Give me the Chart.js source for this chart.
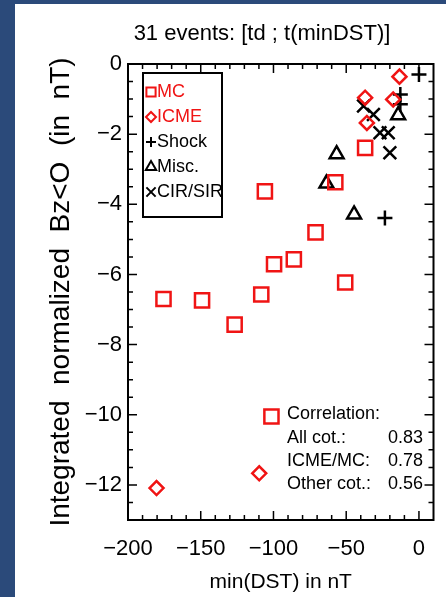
<!DOCTYPE html>
<html>
<head>
<meta charset="utf-8">
<title>31 events</title>
<script src="https://cdn.jsdelivr.net/npm/chart.js@4.4.1/dist/chart.umd.min.js"></script>
<style>
  html, body { margin: 0; padding: 0; background: #2b4a7a; }
  #panel { position: absolute; left: 15px; top: 4px; width: 431px; height: 593px; background: #fff; }
</style>
</head>
<body>
<div id="panel"><canvas id="chart"></canvas></div>
<script>
const FONT = "'Liberation Sans', Arial, sans-serif";
const RED = '#f01414';
const BLACK = '#000';

// axes
const X_RANGE = [-200, 10];
const Y_RANGE = [-13, 0];
const X_TICKS = [-200, -150, -100, -50, 0];
const Y_TICKS = [-12, -10, -8, -6, -4, -2, 0];

// events, [min(DST), integrated normalized Bz<0]
const CATEGORIES = ['MC', 'ICME', 'Shock', 'Misc.', 'CIR/SIR'];
const MC = [
  [-175.6, -6.70], [-149.1, -6.74], [-126.7, -7.43], [-108.4, -6.57],
  [-105.9, -3.63], [-99.6, -5.71], [-86.0, -5.57], [-71.1, -4.80],
  [-50.7, -6.23], [-57.5, -3.37], [-37.0, -2.39], [-101.4, -10.05]
];
const ICME = [
  [-13.4, -0.36], [-37.0, -0.96], [-35.8, -1.68], [-17.7, -1.01],
  [-180.4, -12.09], [-109.8, -11.67]
];
const SHOCK = [[0.0, -0.30], [-12.8, -0.87], [-12.8, -1.15], [-23.4, -4.39]];
const MISC = [[-56.6, -2.57], [-63.6, -3.41], [-44.6, -4.29], [-14.3, -1.46]];
const CIR_SIR = [[-38.1, -1.20], [-31.3, -1.44], [-26.8, -1.96], [-21.1, -1.96], [-20.0, -2.53]];

const CORR_TITLE = 'Correlation:';
const CORR_LABELS = ['All cot.:', 'ICME/MC:', 'Other cot.:'];
const CORR_VALUES = ['0.83', '0.78', '0.56'];

const TITLE = '31 events: [td ; t(minDST)]';

const toXY = arr => arr.map(p => ({ x: p[0], y: p[1] }));
const minus = v => String(v).replace('-', '\u2212');

function series(i, points, style, color, radius, legendRadius) {
  return {
    label: CATEGORIES[i],
    data: toXY(points),
    pointStyle: style,
    pointRadius: radius,
    pointBorderWidth: 2.5,
    pointBorderColor: color,
    pointBackgroundColor: 'rgba(0,0,0,0)',
    borderColor: color,
    legendRadius: legendRadius
  };
}

// frame with inward ticks on all sides, in-plot legend, title and correlation note
const idlFrame = {
  id: 'idlFrame',
  afterDatasetsDraw(chart) {
    const { ctx, chartArea: a, scales: { x, y } } = chart;
    ctx.save();
    ctx.strokeStyle = BLACK;

    ctx.beginPath();
    for (let v = X_RANGE[0] + 10; v < X_RANGE[1]; v += 10) {
      const px = x.getPixelForValue(v);
      const len = X_TICKS.includes(v) ? 9 : 5;
      ctx.moveTo(px, a.bottom); ctx.lineTo(px, a.bottom - len);
      ctx.moveTo(px, a.top); ctx.lineTo(px, a.top + len);
    }
    for (let v = Y_RANGE[0] + 0.5; v < Y_RANGE[1]; v += 0.5) {
      const py = y.getPixelForValue(v);
      const len = Y_TICKS.includes(v) ? 9 : 5;
      ctx.moveTo(a.left, py); ctx.lineTo(a.left + len, py);
      ctx.moveTo(a.right, py); ctx.lineTo(a.right - len, py);
    }
    ctx.lineWidth = 1.5;
    ctx.stroke();

    ctx.lineWidth = 2;
    ctx.strokeRect(a.left, a.top, a.right - a.left, a.bottom - a.top);

    // legend box
    const lx = a.left + 15, ly = a.top + 9;
    ctx.strokeRect(lx, ly, 79, 144);
    ctx.font = '18px ' + FONT;
    ctx.textBaseline = 'middle';
    ctx.textAlign = 'left';
    chart.data.datasets.forEach((ds, i) => {
      const cy = ly + 19 + i * 25;
      ctx.strokeStyle = ds.borderColor;
      ctx.fillStyle = 'rgba(0,0,0,0)';
      ctx.lineWidth = 2;
      Chart.helpers.drawPoint(ctx, { pointStyle: ds.pointStyle, radius: ds.legendRadius, borderWidth: 2, rotation: 0 }, lx + 8, cy);
      ctx.fillStyle = ds.borderColor;
      ctx.fillText(ds.label, lx + 14, cy);
    });

    // correlation note
    ctx.fillStyle = BLACK;
    ctx.fillText(CORR_TITLE, a.left + 159, a.top + 350);
    CORR_LABELS.forEach((t, i) => {
      const cy = a.top + 374 + i * 23;
      ctx.textAlign = 'left';
      ctx.fillText(t, a.left + 159, cy);
      ctx.textAlign = 'right';
      ctx.fillText(CORR_VALUES[i], a.left + 295, cy);
    });

    // title
    ctx.font = '22px ' + FONT;
    ctx.textAlign = 'center';
    ctx.fillText(TITLE, 247, 30);
    ctx.restore();
  }
};

Chart.defaults.font.family = FONT;
Chart.defaults.color = BLACK;

new Chart(document.getElementById('chart'), {
  type: 'scatter',
  data: {
    datasets: [
      series(0, MC, 'rect', RED, 10, 6.5),
      series(1, ICME, 'rectRot', RED, 7, 5),
      series(2, SHOCK, 'cross', BLACK, 7.5, 5),
      series(3, MISC, 'triangle', BLACK, 8, 6),
      series(4, CIR_SIR, 'crossRot', BLACK, 9, 6.5)
    ]
  },
  options: {
    responsive: true,
    maintainAspectRatio: false,
    animation: false,
    devicePixelRatio: 1,
    events: [],
    layout: { padding: { top: 60, right: 8, left: 0, bottom: 0 } },
    plugins: {
      legend: { display: false },
      tooltip: { enabled: false },
      title: { display: false }
    },
    scales: {
      x: {
        type: 'linear',
        position: 'bottom',
        min: X_RANGE[0],
        max: X_RANGE[1],
        afterBuildTicks: s => { s.ticks = X_TICKS.map(v => ({ value: v })); },
        afterFit: s => { s.height = 77; },
        ticks: { font: { size: 22 }, padding: 16, maxRotation: 0, autoSkip: false, callback: minus },
        grid: { display: false, drawTicks: false },
        border: { display: false },
        title: { display: true, text: 'min(DST) in nT', font: { size: 21 }, padding: { top: 0, bottom: 2 } }
      },
      y: {
        type: 'linear',
        position: 'left',
        min: Y_RANGE[0],
        max: Y_RANGE[1],
        afterBuildTicks: s => { s.ticks = Y_TICKS.map(v => ({ value: v })); },
        afterFit: s => { s.width = 113; },
        ticks: { font: { size: 22 }, padding: 6, autoSkip: false, callback: minus },
        grid: { display: false, drawTicks: false },
        border: { display: false },
        title: { display: true, text: 'Integrated  normalized  Bz<O  (in  nT)', font: { size: 28 }, padding: { top: 29, bottom: 0 } }
      }
    }
  },
  plugins: [idlFrame]
});
</script>
</body>
</html>
